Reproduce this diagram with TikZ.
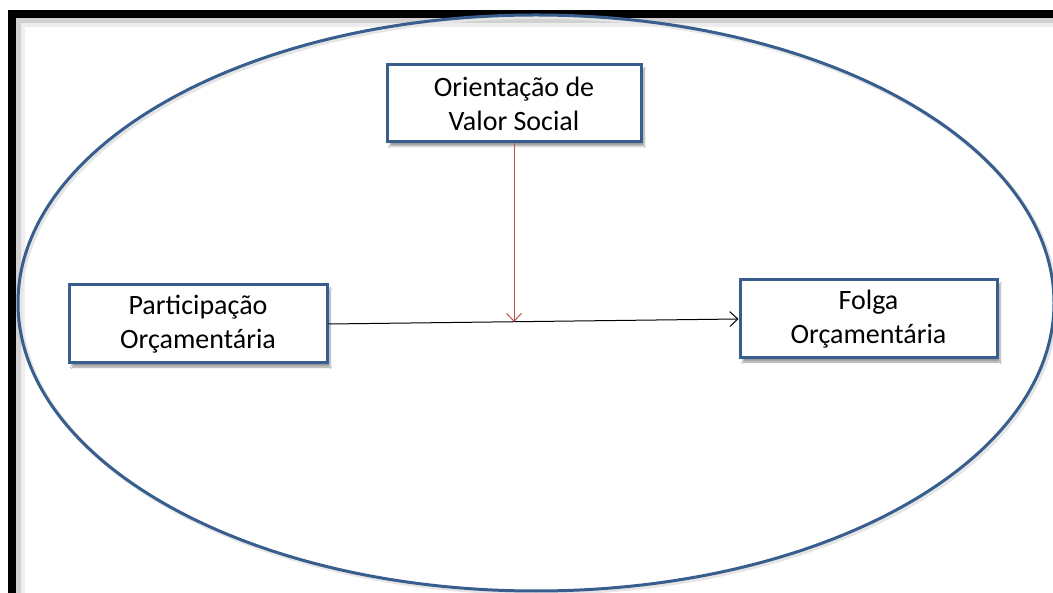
\documentclass[tikz,border=0pt]{standalone}
\usepackage{fontspec}
\setmainfont{Carlito}
\usetikzlibrary{arrows.meta,shadows.blur}
\definecolor{boxblue}{RGB}{56,94,142}
\definecolor{arrred}{RGB}{192,80,77}
\tikzset{
  box/.style={draw=boxblue, line width=3pt, fill=white, rectangle, align=center,
    font=\fontsize{28}{34}\selectfont, inner sep=0pt,
    blur shadow={shadow xshift=3pt, shadow yshift=-4pt, shadow blur steps=6, shadow opacity=40}},
  conn/.style={line width=1pt, -{Straight Barb[length=8pt,width=15pt,line width=1pt]}},
}
\begin{document}
\begin{tikzpicture}[x=1pt,y=-1pt]
\useasboundingbox (0,0) rectangle (1053,593);
\fill[white] (0,0) rectangle (1053,593);
% frame shadow
\fill[black!18] (16,18) rectangle (21,600);
\fill[black!18] (16,18) rectangle (1060,23);
\fill[black!7] (21,23) rectangle (25,600);
\fill[black!7] (21,23) rectangle (1060,27);
\draw[line width=8pt] (12,14) rectangle (1070,610);
% ellipse
\draw[black!10, line width=4pt] (538,305) ellipse [x radius=518, y radius=288];
\draw[boxblue, line width=3pt] (536,303) ellipse [x radius=518, y radius=288];
% nodes
\node[box, minimum width=254pt, minimum height=77pt] (ovs) at (514,103.5) {Orientação de\\Valor Social};
\node[box, minimum width=258pt, minimum height=78pt] (po) at (198,324) {Participação\\Orçamentária};
\node[box, minimum width=257pt, minimum height=78pt] (fo) at (868.5,319) {Folga\\Orçamentária};
% connectors
\draw[conn] (po.east) -- (fo.west);
\coordinate (hit) at (ovs.south |- 0,322);
\draw[conn, arrred] (ovs.south) -- (hit);
\end{tikzpicture}
\end{document}
